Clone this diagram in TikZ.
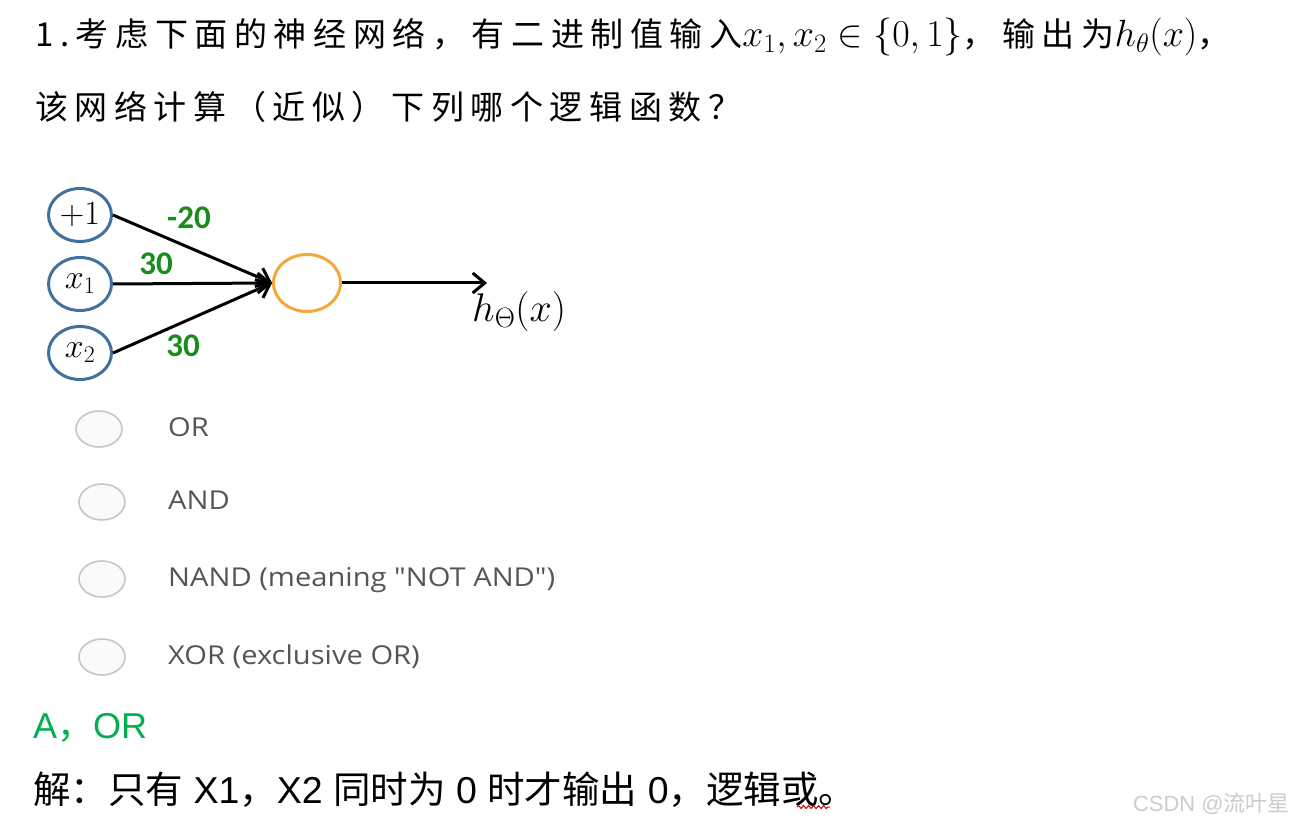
\RequirePackage{fix-cm}
\documentclass[tikz,border=0pt]{standalone}
\usepackage{amsmath,amssymb}
\usepackage{fontspec}
\setmainfont{Liberation Sans}
\newfontfamily\cjk{Noto Sans CJK SC}
\newfontfamily\cjkwide[LetterSpace=20]{Noto Sans CJK SC}
\newfontfamily\optfont[FakeStretch=1.12]{Open Sans}
\newfontfamily\wfont{Carlito}
\newcommand{\bigmath}[1]{{\fontsize{38}{40}\selectfont $#1$}}
\usepackage{tikz}
\usetikzlibrary{shapes.geometric, arrows.meta, positioning, decorations.pathmorphing}
\definecolor{inblue}{RGB}{65,113,156}
\definecolor{neuorange}{RGB}{247,166,58}
\definecolor{wgreen}{RGB}{25,140,25}
\definecolor{ansgreen}{RGB}{0,176,80}
\definecolor{optgray}{RGB}{85,85,85}

\begin{document}
\begin{tikzpicture}[x=1pt, y=-1pt,
    inode/.style={draw=inblue, ellipse, line width=3pt, minimum width=63pt, minimum height=53pt, inner sep=0pt, font=\fontsize{34}{34}\selectfont},
    neuron/.style={draw=neuorange, ellipse, line width=3pt, minimum width=67pt, minimum height=57pt},
    arrow/.style={line width=3pt, -{Straight Barb[length=12pt, width=20pt]}},
    wlab/.style={text=wgreen, font=\wfont\bfseries\fontsize{33}{33}\selectfont, inner sep=0pt},
    radio/.style={draw=gray!45, ellipse, line width=1.6pt, fill=gray!4, minimum width=46pt, minimum height=36pt},
    opt/.style={anchor=base west, text=optgray, inner sep=0pt, font=\optfont\fontsize{26}{26}\selectfont},
    txt/.style={anchor=base west, inner sep=0pt}
]
\useasboundingbox[fill=white] (0,0) rectangle (1296,826);

% question
\node[txt, font=\fontsize{33}{40}\selectfont] (q1) at (35,47)
  {{\cjkwide 1.考虑下面的神经网络，有二进制值输入}\bigmath{x_1,x_2 \in \{0,1\}}{\cjkwide ，输出为}\bigmath{h_\theta(x)}{\cjkwide ，}};
\node[txt, font=\fontsize{33}{40}\selectfont] (q2) at (35,120)
  {\cjkwide 该网络计算（近似）下列哪个逻辑函数？};

% network
\node[inode] (one) at (80,215) {$+1$};
\node[inode] (xa) at (80,284) {$x_1$};
\node[inode] (xb) at (80,353) {$x_2$};
\node[neuron] (neu) at (307,283) {};
\coordinate (hout) at (487,283);
\node[txt, font=\fontsize{40}{40}\selectfont] (hlab) at (472,322) {$h_\Theta(x)$};

\draw[arrow] (one.east) -- (neu.west);
\draw[arrow] (xa.east) -- (neu.west);
\draw[arrow] (xb.east) -- (neu.west);
\draw[arrow] (neu.east) -- (hout);

\node[wlab] (w0) at (189,218) {-20};
\node[wlab] (w1) at (156,264) {30};
\node[wlab] (w2) at (183,346) {30};

% choices
\foreach \n/\rx/\ry/\t in {a/99/429/OR, b/102/502/AND, c/102/579/{NAND (meaning "NOT AND")}, d/102/657/{XOR (exclusive OR)}} {
  \node[radio] (r\n) at (\rx,\ry) {};
  \node[opt] (o\n) at (168,\ry+7) {\t};
}

% answer
\node[txt, text=ansgreen, font=\fontsize{36}{36}\selectfont] (ans) at (33,738) {A{\cjk ，}OR};
\node[txt, font=\fontsize{37.5}{38}\selectfont] (sol) at (33,803)
  {{\cjk 解：只有} X1{\cjk ，}X2 {\cjk 同时为} 0 {\cjk 时才输出} 0{\cjk ，逻辑或。}};
\draw[red!80!black, line width=1pt, decorate, decoration={snake, amplitude=1.5pt, segment length=5pt}] (797,807) -- (830,807);

\node[anchor=base east, inner sep=0pt, text=gray!40, font=\fontsize{22}{22}\selectfont] (wm) at (1290,811) {CSDN @{\cjk 流叶星}};
\end{tikzpicture}
\end{document}
